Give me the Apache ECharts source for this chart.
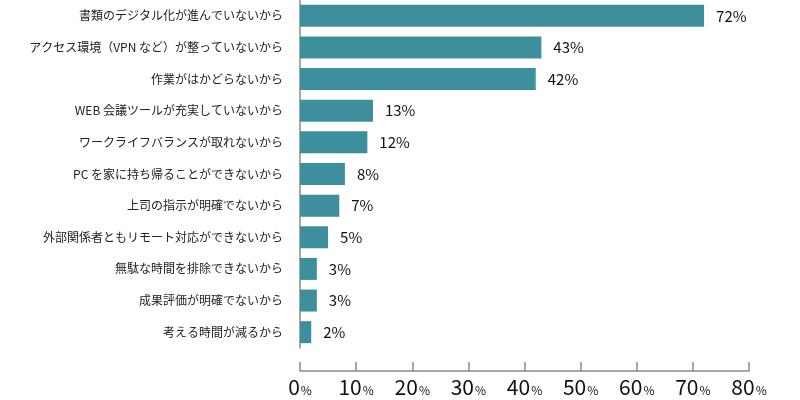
<!DOCTYPE html>
<html>
<head>
<meta charset="utf-8">
<script src="https://cdn.jsdelivr.net/npm/echarts@6/dist/echarts.min.js"></script>
<style>
  html, body { margin: 0; padding: 0; background: #fff; }
  #chart { width: 800px; height: 400px; }
</style>
</head>
<body>
<div id="chart"></div>
<script>
var reasons = [
    '書類のデジタル化が進んでいないから',
    'アクセス環境（VPN など）が整っていないから',
    '作業がはかどらないから',
    'WEB 会議ツールが充実していないから',
    'ワークライフバランスが取れないから',
    'PC を家に持ち帰ることができないから',
    '上司の指示が明確でないから',
    '外部関係者ともリモート対応ができないから',
    '無駄な時間を排除できないから',
    '成果評価が明確でないから',
    '考える時間が減るから'
];
var shares = [72, 43, 42, 13, 12, 8, 7, 5, 3, 3, 2];
var axisTicks = [0, 10, 20, 30, 40, 50, 60, 70, 80];

var fontJp = '"Noto Sans CJK JP", "Noto Sans", sans-serif';
var barColor = '#3e8f9d';

var chart = echarts.init(document.getElementById('chart'));

var options = {
    animation: false,
    textStyle: { fontFamily: fontJp },
    grid: {
        left: 300,
        right: 51,
        top: -2,
        bottom: 52
    },
    xAxis: {
        type: 'value',
        min: axisTicks[0],
        max: axisTicks[axisTicks.length - 1],
        interval: 10,
        offset: 23,
        splitLine: { show: false },
        axisLine: { show: true, lineStyle: { color: '#8a8a8a', width: 1.5 } },
        axisTick: { show: true, inside: true, length: 9, lineStyle: { color: '#8a8a8a', width: 1.5 } },
        axisLabel: {
            margin: 6,
            color: '#111',
            formatter: function (v) {
                return '{n|' + v + '}{p|%}';
            },
            rich: {
                n: { fontSize: 21, fontFamily: fontJp, color: '#111' },
                p: { fontSize: 12, fontFamily: fontJp, color: '#111', padding: [6, 0, 0, 1] }
            }
        }
    },
    yAxis: {
        type: 'category',
        inverse: true,
        data: reasons,
        axisLine: { show: true, lineStyle: { color: '#8a8a8a', width: 1.5 } },
        axisTick: { show: false },
        axisLabel: {
            margin: 17,
            fontSize: 12,
            color: '#222',
            fontFamily: fontJp
        }
    },
    series: [{
        type: 'bar',
        data: shares,
        barWidth: 22,
        itemStyle: { color: barColor },
        label: {
            show: true,
            position: 'right',
            distance: 12,
            fontSize: 15,
            color: '#111',
            fontFamily: fontJp,
            formatter: '{c}%'
        }
    }]
};

chart.setOption(options);
</script>
</body>
</html>
